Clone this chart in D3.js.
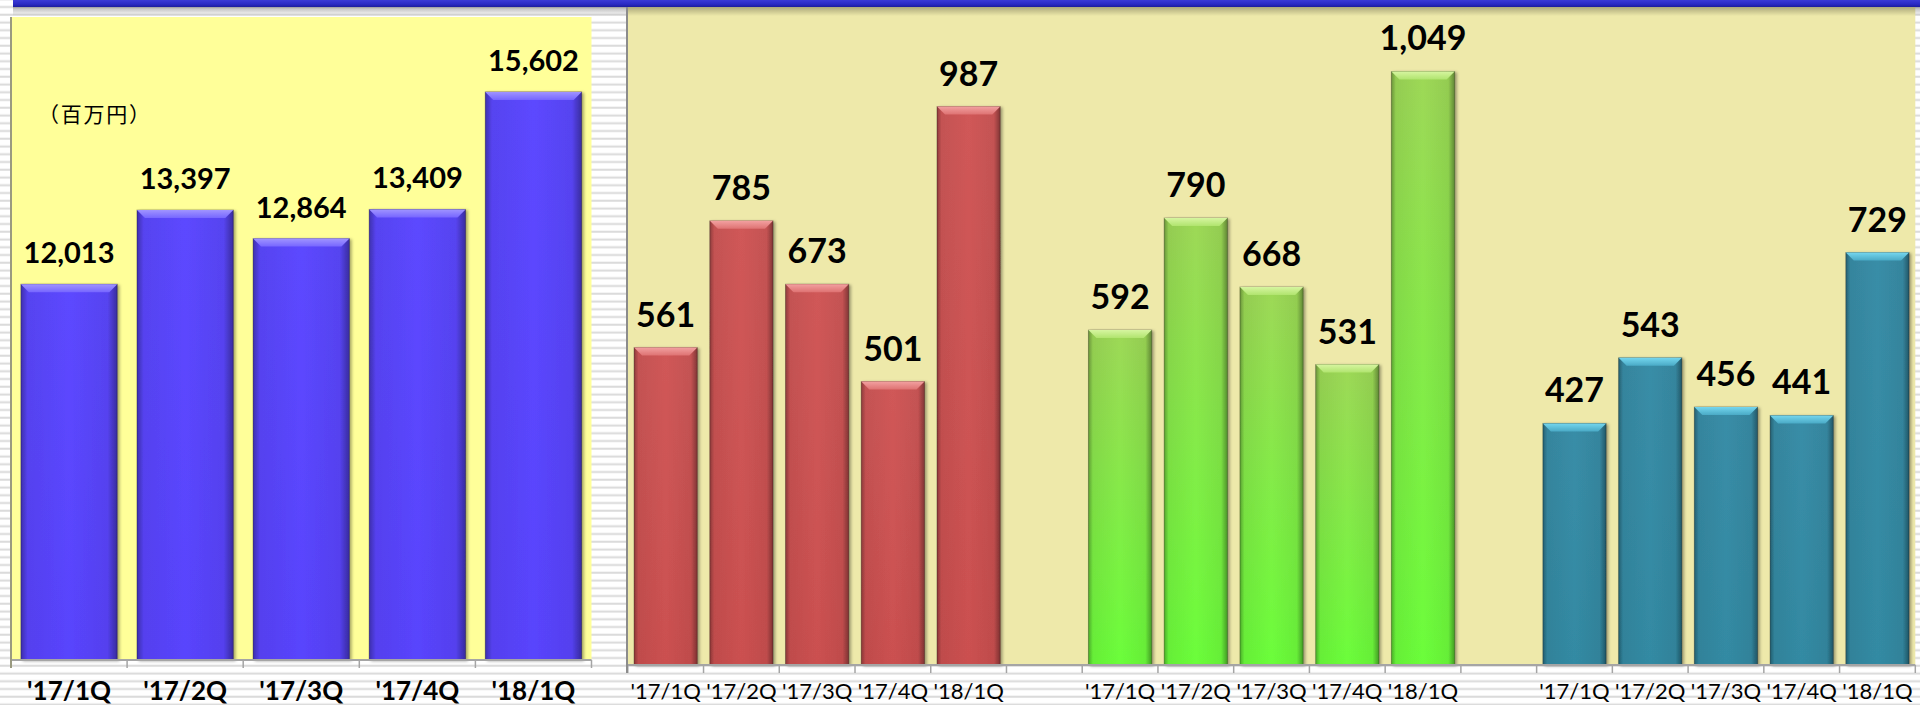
<!DOCTYPE html>
<html lang="ja">
<head>
    <meta charset="UTF-8">
    <title>Quarterly bars</title>
    <script src="https://d3js.org/d3.v7.min.js"></script>
    <style>
        html, body {
            margin: 0;
            padding: 0;
            background: #fff;
        }
        svg {
            display: block;
        }
    </style>
</head>
<body>
<div id="vis"></div>
<script>
var quarters = ["'17/1Q", "'17/2Q", "'17/3Q", "'17/4Q", "'18/1Q"];
var totalSales = [12013, 13397, 12864, 13409, 15602];
var redSeries = [561, 785, 673, 501, 987];
var greenSeries = [592, 790, 668, 531, 1049];
var tealSeries = [427, 543, 456, 441, 729];
var unitLabel = "（百万円）";

var width = 1920,
    height = 705;

var svg = d3.select('#vis')
    .append('svg')
    .attr('width', width)
    .attr('height', height);

var defs = svg.append('defs');

// lined paper behind everything
var stripes = defs.append('pattern')
    .attr('id', 'stripes')
    .attr('patternUnits', 'userSpaceOnUse')
    .attr('width', 10)
    .attr('height', 7.75)
    .attr('y', 0.5);
stripes.append('rect').attr('width', 10).attr('height', 7.75).attr('fill', '#fff');
stripes.append('rect').attr('y', 5.5).attr('width', 10).attr('height', 2).attr('fill', '#dadada');

function linGrad(id, vertical, stops) {
    var g = defs.append('linearGradient')
        .attr('id', id)
        .attr('x1', 0).attr('y1', 0)
        .attr('x2', vertical ? 0 : 1)
        .attr('y2', vertical ? 1 : 0);
    stops.forEach(function(s) {
        g.append('stop')
            .attr('offset', s[0])
            .attr('stop-color', s[1])
            .attr('stop-opacity', s[2] === undefined ? 1 : s[2]);
    });
}

linGrad('band', true, [[0, '#3b3bd6'], [0.6, '#2a2ac4'], [1, '#1c1c9c']]);
linGrad('bandShadow', true, [[0, '#000', 0.28], [1, '#000', 0]]);
linGrad('edgeShade', false, [[0, '#000', 0.32], [0.07, '#000', 0.06], [0.5, '#000', 0], [0.9, '#000', 0.06], [1, '#000', 0.38]]);

var palettes = {
    blue: { top: '#5c48ff', bottom: '#5944fd', bevelHi: '#a094ff', bevelLo: '#7666ff' },
    red: { top: '#d05858', bottom: '#cb5050', bevelHi: '#f2a0a0', bevelLo: '#de7272' },
    green: { top: '#9ed857', bottom: '#6bfe3a', bevelHi: '#d6f5a0', bevelLo: '#b0e46e' },
    teal: { top: '#398da7', bottom: '#338aa3', bevelHi: '#74d6ee', bevelLo: '#4aaac6' }
};

Object.keys(palettes).forEach(function(k) {
    var p = palettes[k];
    linGrad('fill-' + k, true, [[0, p.top], [1, p.bottom]]);
    linGrad('bevel-' + k, true, [[0, p.bevelHi], [1, p.bevelLo]]);
});

var shadow = defs.append('filter')
    .attr('id', 'shadow')
    .attr('x', '-10%').attr('y', '-5%')
    .attr('width', '130%').attr('height', '115%');
shadow.append('feDropShadow')
    .attr('dx', 2)
    .attr('dy', 1)
    .attr('stdDeviation', 1.6)
    .attr('flood-color', '#000')
    .attr('flood-opacity', 0.35);

svg.append('rect')
    .attr('width', width)
    .attr('height', height)
    .attr('fill', 'url(#stripes)');

// scales
var leftX = d3.scaleBand()
    .domain(quarters)
    .range([11, 591.5])
    .paddingInner(0.17)
    .paddingOuter(0.085);

var leftY = d3.scaleLinear()
    .domain([5000, 17000])
    .range([660, 17]);

var groups = [
    { prefix: 'r', pal: 'red', values: redSeries },
    { prefix: 'g', pal: 'green', values: greenSeries },
    { prefix: 't', pal: 'teal', values: tealSeries }
];

var rightRows = [];
var rightDomain = [];
groups.forEach(function(grp, gi) {
    if (gi > 0) {
        rightDomain.push('gap' + gi);
    }
    quarters.forEach(function(q, i) {
        var key = grp.prefix + i;
        rightDomain.push(key);
        rightRows.push({ key: key, label: q, value: grp.values[i], pal: grp.pal });
    });
});

var rightX = d3.scaleBand()
    .domain(rightDomain)
    .range([627.8, 1915.3])
    .paddingInner(0.165)
    .paddingOuter(0.0825);

var rightY = d3.scaleLinear()
    .domain([0, 1163])
    .range([665, 7]);

// panels
svg.append('rect')
    .attr('x', 11)
    .attr('y', leftY.range()[1])
    .attr('width', leftX.range()[1] - 11)
    .attr('height', leftY.range()[0] - leftY.range()[1])
    .attr('fill', '#ffff99');

svg.append('rect')
    .attr('x', 627)
    .attr('y', rightY.range()[1])
    .attr('width', rightX.range()[1] - 627)
    .attr('height', rightY.range()[0] - rightY.range()[1])
    .attr('fill', '#eee9aa');

// top band and its shadow
svg.append('rect')
    .attr('x', 13).attr('y', 7)
    .attr('width', width - 13).attr('height', 9)
    .attr('fill', 'url(#bandShadow)');
svg.append('rect')
    .attr('x', 13).attr('y', 0)
    .attr('width', width - 13).attr('height', 7)
    .attr('fill', 'url(#band)');

function drawBars(layer, rows, x, y, base) {
    var bevel = 8;
    var bar = layer.selectAll('g.bar')
        .data(rows)
        .enter()
        .append('g')
        .attr('class', 'bar')
        .attr('filter', 'url(#shadow)');

    bar.append('rect')
        .attr('x', function(d) { return x(d.key); })
        .attr('y', function(d) { return y(d.value); })
        .attr('width', x.bandwidth())
        .attr('height', function(d) { return y(base) - y(d.value); })
        .attr('fill', function(d) { return 'url(#fill-' + d.pal + ')'; });

    bar.append('rect')
        .attr('x', function(d) { return x(d.key); })
        .attr('y', function(d) { return y(d.value); })
        .attr('width', x.bandwidth())
        .attr('height', function(d) { return y(base) - y(d.value); })
        .attr('fill', 'url(#edgeShade)')
        .attr('stroke', 'rgba(0,0,0,0.28)')
        .attr('stroke-width', 1);

    bar.append('path')
        .attr('d', function(d) {
            var x0 = x(d.key),
                x1 = x0 + x.bandwidth(),
                t = y(d.value);
            return 'M' + x0 + ',' + t + 'L' + x1 + ',' + t +
                'L' + (x1 - bevel) + ',' + (t + bevel) +
                'L' + (x0 + bevel) + ',' + (t + bevel) + 'Z';
        })
        .attr('fill', function(d) { return 'url(#bevel-' + d.pal + ')'; });

    layer.selectAll('text.value')
        .data(rows)
        .enter()
        .append('text')
        .attr('class', 'value')
        .attr('x', function(d) { return x(d.key) + x.bandwidth() / 2; })
        .attr('y', function(d) { return y(d.value) - 21; })
        .attr('text-anchor', 'middle')
        .text(function(d) { return d3.format(',')(d.value); });
}

function drawAxis(layer, x, y0, domain) {
    var half = x.step() / 2;
    var edges = domain.map(function(k) { return x(k) + x.bandwidth() / 2 - half; });
    edges.push(x.range()[1]);

    layer.append('line')
        .attr('x1', x.range()[0])
        .attr('x2', x.range()[1])
        .attr('y1', y0)
        .attr('y2', y0)
        .attr('stroke', '#a5a5a5')
        .attr('stroke-width', 2);

    layer.selectAll('line.tick')
        .data(edges)
        .enter()
        .append('line')
        .attr('class', 'tick')
        .attr('x1', function(d) { return d; })
        .attr('x2', function(d) { return d; })
        .attr('y1', y0)
        .attr('y2', y0 + 8)
        .attr('stroke', '#a5a5a5')
        .attr('stroke-width', 1.5);
}

// left panel
var leftLayer = svg.append('g')
    .style('font-family', 'Lato, "Open Sans", sans-serif')
    .style('font-weight', 'bold')
    .style('font-size', '29px');

var leftRows = quarters.map(function(q, i) {
    return { key: q, label: q, value: totalSales[i], pal: 'blue' };
});

drawBars(leftLayer, leftRows, leftX, leftY, leftY.domain()[0]);
drawAxis(leftLayer, leftX, 660, quarters);

leftLayer.append('line')
    .attr('x1', 11).attr('x2', 11)
    .attr('y1', 17).attr('y2', 668)
    .attr('stroke', '#9a9a80')
    .attr('stroke-width', 2);

leftLayer.selectAll('text.cat')
    .data(leftRows)
    .enter()
    .append('text')
    .attr('class', 'cat')
    .attr('x', function(d) { return leftX(d.key) + leftX.bandwidth() / 2; })
    .attr('y', 700)
    .attr('text-anchor', 'middle')
    .style('font-size', '26px')
    .text(function(d) { return d.label; });

leftLayer.append('text')
    .attr('x', 38)
    .attr('y', 122)
    .style('font-family', '"Noto Sans CJK JP", sans-serif')
    .style('font-weight', 'normal')
    .style('font-size', '21px')
    .attr('textLength', 112)
    .attr('lengthAdjust', 'spacing')
    .text(unitLabel);

// right panel
var rightLayer = svg.append('g')
    .style('font-family', 'Lato, "Open Sans", sans-serif')
    .style('font-weight', 'bold')
    .style('font-size', '34px');

drawBars(rightLayer, rightRows, rightX, rightY, 0);
drawAxis(rightLayer, rightX, 665, rightDomain);

rightLayer.append('line')
    .attr('x1', 627).attr('x2', 627)
    .attr('y1', 7).attr('y2', 673)
    .attr('stroke', '#8c8c8c')
    .attr('stroke-width', 2);

rightLayer.selectAll('text.cat')
    .data(rightRows)
    .enter()
    .append('text')
    .attr('class', 'cat')
    .attr('x', function(d) { return rightX(d.key) + rightX.bandwidth() / 2; })
    .attr('y', 699)
    .attr('text-anchor', 'middle')
    .style('font-weight', 'normal')
    .style('font-size', '22px')
    .text(function(d) { return d.label; });
</script>
</body>
</html>
